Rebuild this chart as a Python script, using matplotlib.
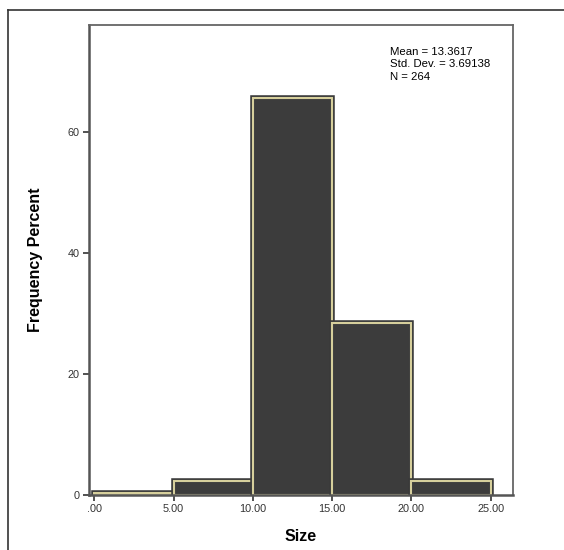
import matplotlib
matplotlib.use("Agg")
import matplotlib.pyplot as plt
import matplotlib.patheffects as pe
from matplotlib.lines import Line2D

# bin edges and percent per bin (N = 264)
bin_left = [0, 5, 10, 15, 20]
bin_width = 5
percent = [0.38, 2.3, 65.6, 28.4, 2.3]
xticks = [0, 5, 10, 15, 20, 25]
xtick_labels = [".00", "5.00", "10.00", "15.00", "20.00", "25.00"]
yticks = [0, 20, 40, 60]
stats_text = "Mean = 13.3617\nStd. Dev. = 3.69138\nN = 264"

plt.rcParams['font.family'] = ['Liberation Sans', 'DejaVu Sans']

fig = plt.figure(figsize=(5.64, 5.5), dpi=100)
ax = fig.add_axes([89/564, 1 - 495/550, (513 - 89)/564, (495 - 25)/550])

bars = ax.bar(bin_left, percent, width=bin_width, align='edge',
              color='#3c3c3c', edgecolor='#d6cf9c', linewidth=1.5)
for b in bars:
    b.set_path_effects([pe.Stroke(linewidth=4.0, foreground='#3a3a3a'), pe.Normal()])

ax.set_xlim(-0.33, 26.4)
ax.set_ylim(0, 77.7)
ax.set_xticks(xticks)
ax.set_xticklabels(xtick_labels)
ax.set_yticks(yticks)
ax.tick_params(axis='both', labelsize=7.8, colors='#333333', length=4.5, width=1.2, pad=2)

for s in ['left', 'bottom']:
    ax.spines[s].set_linewidth(1.8)
    ax.spines[s].set_color('#555555')
for s in ['top', 'right']:
    ax.spines[s].set_linewidth(1.3)
    ax.spines[s].set_color('#666666')

ax.set_xlabel("Size", fontsize=11.5, fontweight='bold', labelpad=11)
ax.set_ylabel("Frequency Percent", fontsize=11.5, fontweight='bold', labelpad=18)

fig.text(390/564, 1 - 47/550, stats_text, fontsize=8.2, va='top', ha='left',
         linespacing=1.3)

# outer frame
fig.add_artist(Line2D([8/564, 8/564], [0, 1 - 10/550], transform=fig.transFigure,
                      color='#333333', linewidth=1.2))
fig.add_artist(Line2D([8/564, 1], [1 - 10/550, 1 - 10/550], transform=fig.transFigure,
                      color='#333333', linewidth=1.2))

fig.savefig("out.png", dpi=100)
